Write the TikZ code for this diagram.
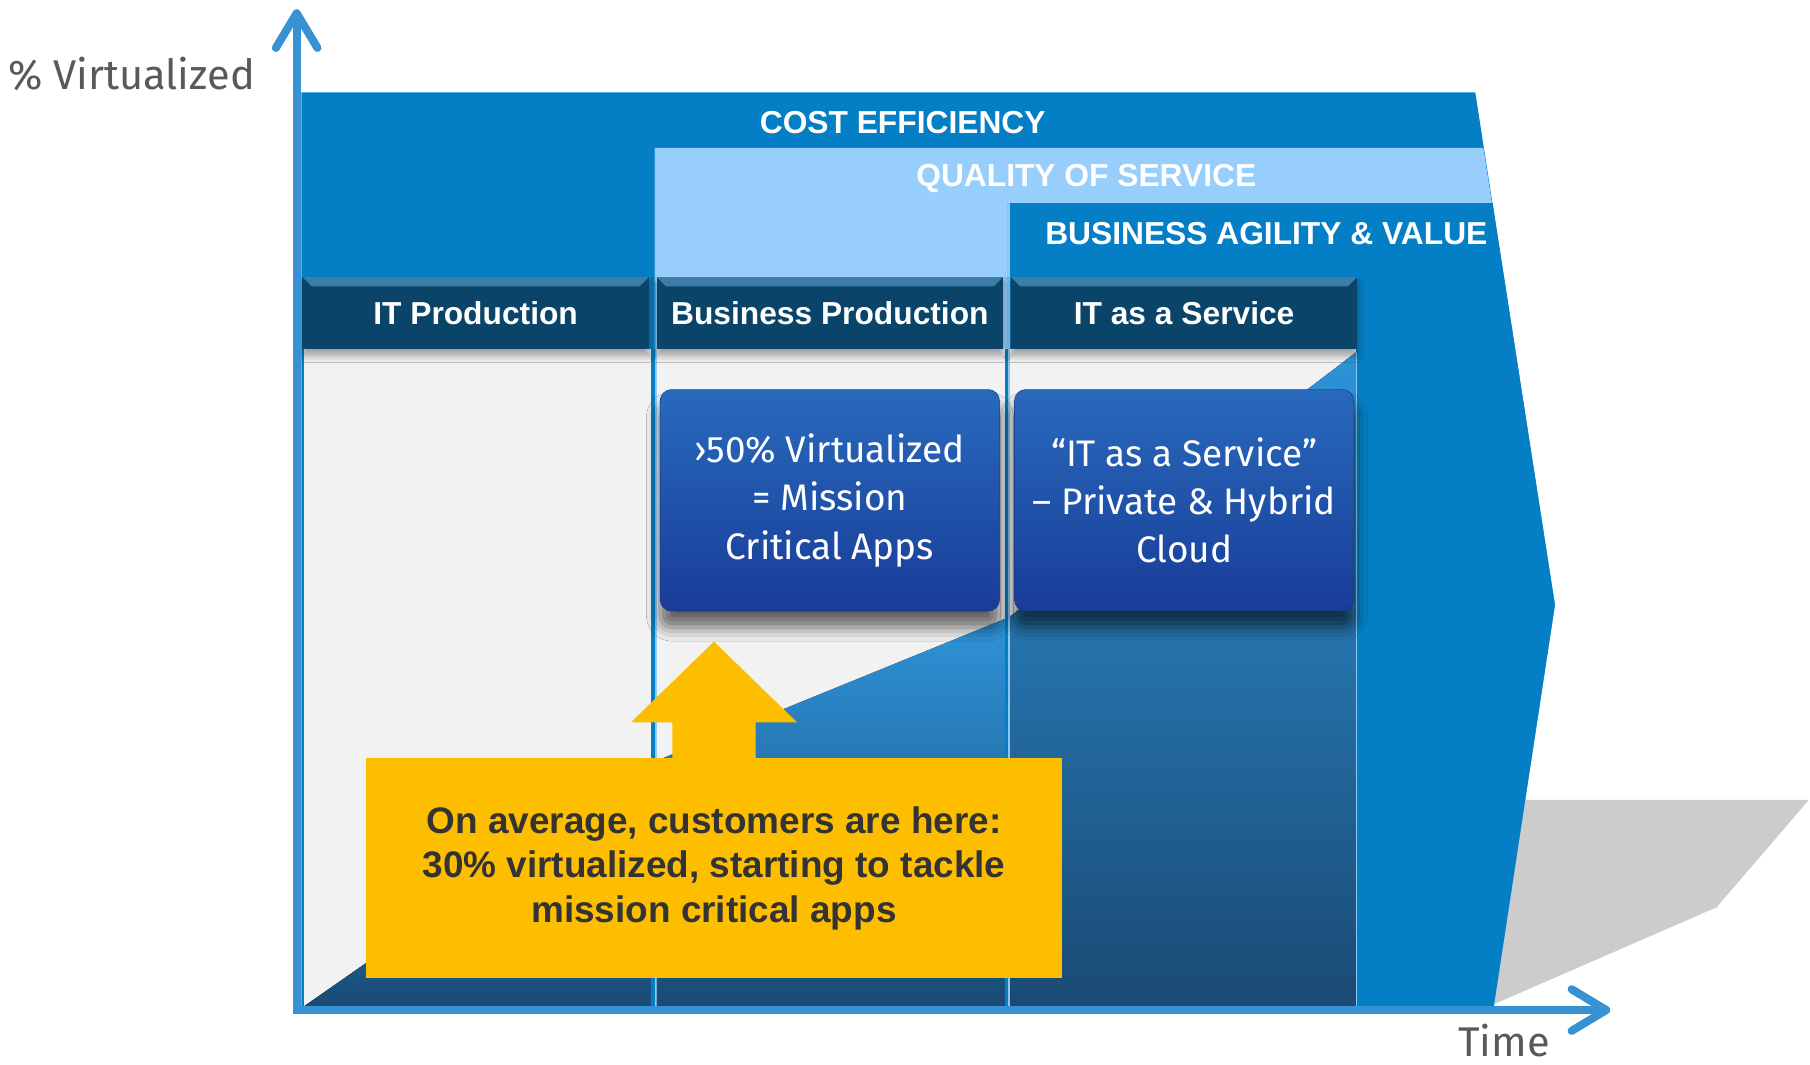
\documentclass[tikz,border=0pt]{standalone}
\usepackage{fontspec}
\setmainfont{Liberation Sans}
\newfontfamily\clearfont{Fira Sans}
\usepackage{tikz}
\usetikzlibrary{arrows.meta, positioning, calc, shadows.blur}

\definecolor{costblue}{RGB}{4,126,196}
\definecolor{qosblue}{RGB}{151,206,251}
\definecolor{axisblue}{RGB}{56,145,210}
\definecolor{panelgrey}{RGB}{242,242,242}
\definecolor{floorgrey}{RGB}{204,204,204}
\definecolor{hdrdark}{RGB}{10,68,104}
\definecolor{hdrlight}{RGB}{60,124,166}
\definecolor{boxtop}{RGB}{40,106,188}
\definecolor{boxbot}{RGB}{25,60,152}
\definecolor{wedgetop}{RGB}{46,147,216}
\definecolor{wedgebot}{RGB}{26,74,116}
\definecolor{calloutyellow}{RGB}{253,190,0}
\definecolor{callouttext}{RGB}{51,51,51}
\definecolor{labelgrey}{RGB}{89,89,89}
\definecolor{sepline}{RGB}{140,200,242}

\begin{document}
\begin{tikzpicture}[
    x=1pt, y=-1pt,
    bandlabel/.style={font=\fontsize{27.5}{30}\selectfont\bfseries, text=white},
    stagehead/.style={rectangle, fill=hdrdark, minimum width=300pt, minimum height=62pt,
        inner sep=0pt, font=\fontsize{27.5}{30}\selectfont\bfseries, text=white,
        blur shadow={shadow xshift=0pt, shadow yshift=-6pt, shadow blur radius=6pt, shadow opacity=35},
        path picture={
          \fill[hdrlight] (path picture bounding box.north west)
            -- (path picture bounding box.north east)
            -- ([xshift=-8pt,yshift=-8pt]path picture bounding box.north east)
            -- ([xshift=8pt,yshift=-8pt]path picture bounding box.north west) -- cycle;}},
    milestone/.style={rectangle, rounded corners=10pt, top color=boxtop, bottom color=boxbot,
        draw=boxbot!85!black, minimum width=294pt, minimum height=192pt, align=center,
        text=white, font=\clearfont\fontsize{32}{42}\selectfont,
        blur shadow={shadow xshift=0pt, shadow yshift=-14pt, shadow blur radius=12pt, shadow opacity=60}},
    callout/.style={rectangle, fill=calloutyellow, minimum width=603pt, minimum height=190pt,
        align=center, text=callouttext, font=\fontsize{32}{38.5}\selectfont\bfseries},
    wedge/.style={top color=wedgetop, bottom color=wedgebot},
    sep/.style={sepline, line width=1.6pt},
    axislabel/.style={text=labelgrey, inner sep=0pt, font=\clearfont\fontsize{36}{40}\selectfont},
    axis/.style={axisblue, line width=7pt,
        {Straight Barb[length=30pt, width=36pt, round]}-{Straight Barb[length=30pt, width=36pt, round]}}
]
\useasboundingbox (0,0) rectangle (1568,922);

% Floor shadow behind the bands
\fill[floorgrey] (1294,870) -- (1321,693) -- (1567,693) -- (1487,786) -- cycle;

% Nested bands
\fill[costblue] (261,80) -- (1278,80) -- (1347,524) -- (1294,872) -- (261,872) -- cycle;
\fill[qosblue]  (567,128) -- (1285,128) -- (1347,524) -- (1294,872) -- (567,872) -- cycle;
\fill[costblue] (873,176) -- (1293,176) -- (1347,524) -- (1294,872) -- (873,872) -- cycle;

\node[bandlabel] (cost)  at (782,106)  {COST EFFICIENCY};
\node[bandlabel] (qos)   at (941,155)  {QUALITY OF SERVICE};
\node[bandlabel] (agile) at (1097,202) {BUSINESS AGILITY \& VALUE};

% Column panels
\fill[panelgrey] (263,302) rectangle (564,872);
\fill[panelgrey] (569,302) rectangle (871,872);
\fill[panelgrey] (875,302) rectangle (1175,872);

% Growth wedge, one piece per column
\fill[wedge] (263,872) -- (564,662) -- (564,872) -- cycle;
\fill[wedge] (569,872) -- (569,659) -- (871,536) -- (871,872) -- cycle;
\fill[wedge] (875,872) -- (875,534) -- (1175,305) -- (1175,872) -- cycle;

% Column separators
\fill[costblue] (564,302) rectangle (567,872);
\fill[costblue] (871,302) rectangle (873,872);
\draw[sep] (567.8,128) -- (567.8,872);
\draw[sep] (873.8,176) -- (873.8,872);
\draw[sep, line width=1.2pt] (1175,305) -- (1175,872);

% Stage headers
\node[stagehead] (itprod) at (412,271) {IT Production};
\node[stagehead, right=6.5pt of itprod] (bizprod) {Business Production};
\node[stagehead, right=6.5pt of bizprod] (itaas) {IT as a Service};

% Milestones
\node[milestone, below=35pt of bizprod] (critical) {›50\% Virtualized\\= Mission\\Critical Apps};
\node[milestone, below=35pt of itaas] (cloud) {“IT as a Service”\\– Private \& Hybrid\\Cloud};

% Where customers are
\node[callout] (here) at (618.5,752) {On average, customers are here:\\30\% virtualized, starting to tackle\\mission critical apps};
\fill[calloutyellow] ([xshift=-36pt]here.north) -- ++(0,-31) -- ++(-36,0)
    -- ($(here.north)+(0,-101)$) -- ($(here.north)+(72,-31)$) -- ++(-36,0)
    -- ([xshift=36pt]here.north) -- cycle;

% Axes
\coordinate (origin) at (257,875);
\coordinate (ytip) at (257,8);
\coordinate (xtip) at (1395,875);
\draw[axis] (ytip) -- (origin) -- (xtip);

\node[axislabel] (ylabel) at (114,64) {\% Virtualized};
\node[axislabel, anchor=base] (xlabel) at (1303,915) {Time};

\end{tikzpicture}
\end{document}
